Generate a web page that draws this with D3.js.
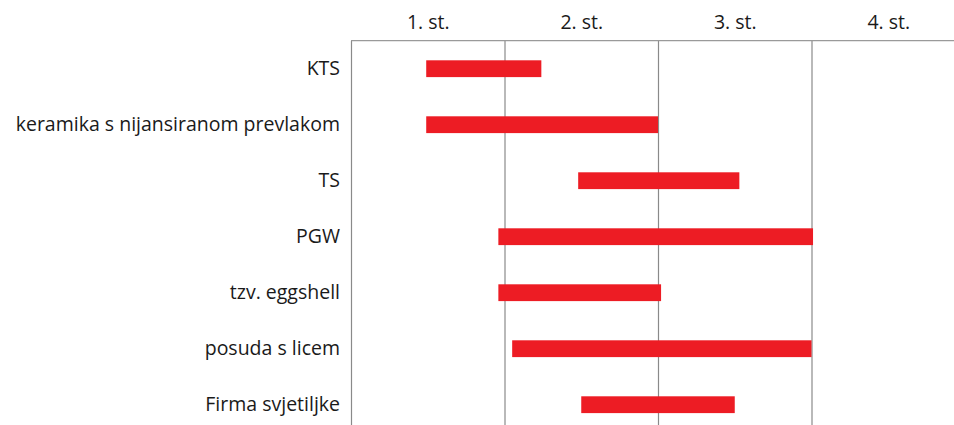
<!DOCTYPE html>
<html>
<head>
<meta charset="utf-8">
<script src="https://cdn.jsdelivr.net/npm/d3@7"></script>
<style>
    body { margin: 0; background: #fff; }
    text { font-family: "Open Sans", Lato, sans-serif; fill: #1a1a1a; }
</style>
</head>
<body>
<script>
//categories, top to bottom
var categories = ["KTS", "keramika s nijansiranom prevlakom", "TS", "PGW",
                  "tzv. eggshell", "posuda s licem", "Firma svjetiljke"];

//start and end of each range, in centuries (0 = start of 1st century)
var starts = [0.49, 0.49, 1.48, 0.96, 0.96, 1.05, 1.50];
var ends   = [1.24, 2.00, 2.53, 3.01, 2.02, 3.00, 2.50];

//century labels along the top
var centuryLabels = ["1. st.", "2. st.", "3. st.", "4. st."];

window.onload = setChart;

function setChart(){

    var width = 954,
        height = 425;

    var margin = {top: 40.7, left: 351};
    var plotBottom = 432.7,
        plotRight = 965;

    var svg = d3.select("body")
        .append("svg")
        .attr("width", width)
        .attr("height", height);

    var x = d3.scaleLinear()
        .domain([0, 4])
        .range([margin.left, plotRight]);

    var y = d3.scaleBand()
        .domain(categories)
        .range([margin.top, plotBottom])
        .paddingInner(0.7)
        .paddingOuter(0.35);

    //vertical gridlines at century boundaries
    var grid = svg.append("g")
        .attr("transform", "translate(0," + margin.top + ")")
        .call(d3.axisTop(x)
            .tickValues([0, 1, 2, 3, 4])
            .tickSize(-(plotBottom - margin.top))
            .tickFormat(""));
    grid.select(".domain").remove();
    grid.selectAll(".tick line")
        .attr("stroke", "#8a8a8a")
        .attr("stroke-width", 1.2);

    //top border of the plot
    svg.append("line")
        .attr("x1", x(0))
        .attr("x2", plotRight)
        .attr("y1", margin.top)
        .attr("y2", margin.top)
        .attr("stroke", "#9a9a9a")
        .attr("stroke-width", 1.2);

    //century labels, centred in each band
    var top = svg.append("g")
        .attr("transform", "translate(0," + (margin.top - 12) + ")")
        .call(d3.axisTop(x)
            .tickValues([0.5, 1.5, 2.5, 3.5])
            .tickSize(0)
            .tickPadding(0)
            .tickFormat(function(d, i){ return centuryLabels[i]; }));
    top.select(".domain").remove();
    top.selectAll("text")
        .style("font-size", "19.5px")
        .attr("fill", "#1a1a1a");

    //category labels on the left
    var left = svg.append("g")
        .attr("transform", "translate(" + (margin.left - 11) + ",0)")
        .call(d3.axisLeft(y).tickSize(0).tickPadding(0));
    left.select(".domain").remove();
    left.selectAll("text")
        .style("font-size", "19.5px")
        .attr("fill", "#1a1a1a");

    //range bars
    svg.selectAll(".bar")
        .data(categories)
        .enter()
        .append("rect")
        .attr("class", "bar")
        .attr("x", function(d, i){ return x(starts[i]); })
        .attr("width", function(d, i){ return x(ends[i]) - x(starts[i]); })
        .attr("y", function(d){ return y(d); })
        .attr("height", y.bandwidth())
        .attr("fill", "#ed1c24");
};
</script>
</body>
</html>
